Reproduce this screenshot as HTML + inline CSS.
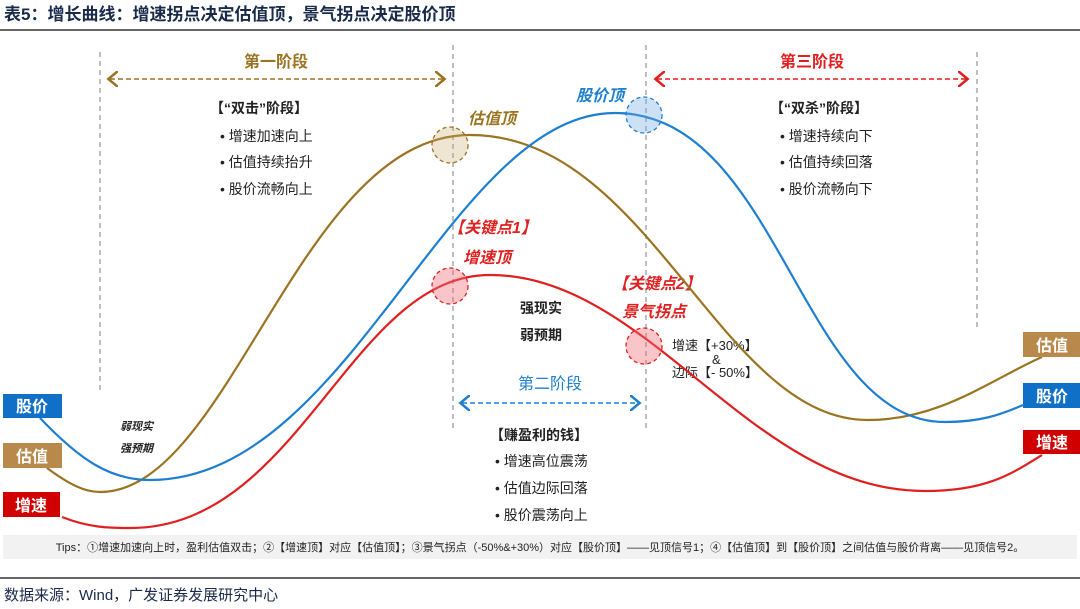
<!DOCTYPE html>
<html><head><meta charset="utf-8"><style>
body{margin:0;background:#fff;}
svg{display:block;font-family:"Liberation Sans","Noto Sans CJK SC",sans-serif;}
</style></head><body>
<svg width="1080" height="609" viewBox="0 0 1080 609" xmlns="http://www.w3.org/2000/svg">
<defs>
<marker id="ag" markerWidth="10" markerHeight="10" refX="5" refY="5" orient="auto-start-reverse"><path d="M0,0 L6,5 L0,10" fill="none" stroke="#9a7420" stroke-width="1.6"/></marker>
<marker id="ar" markerWidth="10" markerHeight="10" refX="5" refY="5" orient="auto-start-reverse"><path d="M0,0 L6,5 L0,10" fill="none" stroke="#e02020" stroke-width="1.6"/></marker>
<marker id="ab" markerWidth="10" markerHeight="10" refX="5" refY="5" orient="auto-start-reverse"><path d="M0,0 L6,5 L0,10" fill="none" stroke="#1e7fd0" stroke-width="1.6"/></marker>
</defs>
<text x="4" y="20" font-size="17" font-weight="bold" fill="#1a2a4a">表5：增长曲线：增速拐点决定估值顶，景气拐点决定股价顶</text>
<line x1="0" y1="30" x2="1080" y2="30" stroke="#333" stroke-width="1.5"/>

<g stroke="#aaa" stroke-width="1.5" stroke-dasharray="5,4">
<line x1="100" y1="52" x2="100" y2="390"/>
<line x1="453" y1="45" x2="453" y2="430"/>
<line x1="646" y1="45" x2="646" y2="430"/>
<line x1="977" y1="52" x2="977" y2="330"/>
</g>
<line x1="110" y1="79" x2="443" y2="79" stroke="#9a7420" stroke-width="1.6" stroke-dasharray="5,3" marker-start="url(#ag)" marker-end="url(#ag)"/>
<line x1="657" y1="79" x2="966" y2="79" stroke="#e02020" stroke-width="1.6" stroke-dasharray="5,3" marker-start="url(#ar)" marker-end="url(#ar)"/>
<line x1="462" y1="403" x2="638" y2="403" stroke="#1e7fd0" stroke-width="1.6" stroke-dasharray="5,3" marker-start="url(#ab)" marker-end="url(#ab)"/>

<text x="276" y="67" font-size="16" font-weight="bold" fill="#9a7420" text-anchor="middle">第一阶段</text>
<text x="812" y="67" font-size="16" font-weight="bold" fill="#e02020" text-anchor="middle">第三阶段</text>
<text x="550" y="389" font-size="16" fill="#1e7fd0" text-anchor="middle">第二阶段</text>

<g font-size="14" fill="#222">
<text x="210" y="113" font-weight="bold">【“双击”阶段】</text>
<text x="220" y="141">•  增速加速向上</text>
<text x="220" y="167">•  估值持续抬升</text>
<text x="220" y="194">•  股价流畅向上</text>
<text x="770" y="113" font-weight="bold">【“双杀”阶段】</text>
<text x="780" y="141">•  增速持续向下</text>
<text x="780" y="167">•  估值持续回落</text>
<text x="780" y="194">•  股价流畅向下</text>
<text x="490" y="440" font-weight="bold">【赚盈利的钱】</text>
<text x="495" y="466">•  增速高位震荡</text>
<text x="495" y="493">•  估值边际回落</text>
<text x="495" y="520">•  股价震荡向上</text>
<text x="520" y="313" font-weight="bold">强现实</text>
<text x="520" y="340" font-weight="bold">弱预期</text>
<text x="672" y="350" font-size="13">增速【+30%】</text>
<text x="712" y="364" font-size="13">&amp;</text>
<text x="672" y="377" font-size="13">边际【- 50%】</text>
<text x="120" y="430" font-size="11" font-weight="bold" font-style="italic">弱现实</text>
<text x="120" y="452" font-size="11" font-weight="bold" font-style="italic">强预期</text>
</g>

<g font-size="16" font-weight="bold" font-style="italic">
<text x="468" y="124" fill="#9a7420">估值顶</text>
<text x="576" y="101" fill="#1e7fd0">股价顶</text>
<text x="448" y="233" fill="#e02020">【关键点1】</text>
<text x="463" y="263" fill="#e02020">增速顶</text>
<text x="612" y="289" fill="#e02020">【关键点2】</text>
<text x="622" y="317" fill="#e02020">景气拐点</text>
</g>

<g fill="none" stroke-width="2.2">
<path d="M47,468 C70,485 85,492 100,492 C230,492 300,135 470,135 C650,135 720,420 868,420 C940,420 990,380 1042,357" stroke="#9a7420"/>
<path d="M40,418 C80,460 110,480 150,480 C350,480 450,113 615,113 C780,113 800,422 945,422 C980,422 1000,415 1023,405" stroke="#1e7fd0"/>
<path d="M62,517 C90,528 110,528 130,528 C300,528 350,275 490,275 C650,275 750,491 925,491 C985,491 1010,475 1042,455" stroke="#e02020"/>
</g>

<g stroke-width="1.3" stroke-dasharray="4,3">
<circle cx="450" cy="145" r="18" fill="rgba(200,170,110,0.3)" stroke="#9a7420"/>
<circle cx="644" cy="115" r="18" fill="rgba(110,170,230,0.35)" stroke="#1e7fd0"/>
<circle cx="450" cy="286" r="18" fill="rgba(240,110,120,0.4)" stroke="#e02020"/>
<circle cx="644" cy="346" r="18" fill="rgba(240,110,120,0.4)" stroke="#e02020"/>
</g>

<g font-size="16" font-weight="bold" fill="#fff">
<rect x="3" y="394" width="59" height="24" fill="#1070c8"/><text x="32" y="412" text-anchor="middle">股价</text>
<rect x="3" y="443" width="59" height="25" fill="#b8894a"/><text x="32" y="462" text-anchor="middle">估值</text>
<rect x="3" y="492" width="57" height="25" fill="#d00000"/><text x="31" y="511" text-anchor="middle">增速</text>
<rect x="1023" y="332" width="57" height="25" fill="#b8894a"/><text x="1052" y="351" text-anchor="middle">估值</text>
<rect x="1023" y="383" width="57" height="25" fill="#1070c8"/><text x="1052" y="402" text-anchor="middle">股价</text>
<rect x="1023" y="430" width="57" height="24" fill="#d00000"/><text x="1052" y="448" text-anchor="middle">增速</text>
</g>

<rect x="3" y="535" width="1074" height="24" fill="#f2f2f2"/>
<text x="540" y="551" font-size="11" fill="#222" text-anchor="middle">Tips：①增速加速向上时，盈利估值双击；②【增速顶】对应【估值顶】；③景气拐点（-50%&amp;+30%）对应【股价顶】——见顶信号1；④【估值顶】到【股价顶】之间估值与股价背离——见顶信号2。</text>
<line x1="0" y1="578" x2="1080" y2="578" stroke="#333" stroke-width="1.5"/>
<text x="4" y="600" font-size="15" fill="#1a2a4a">数据来源：Wind，广发证券发展研究中心</text>
</svg>
</body></html>
